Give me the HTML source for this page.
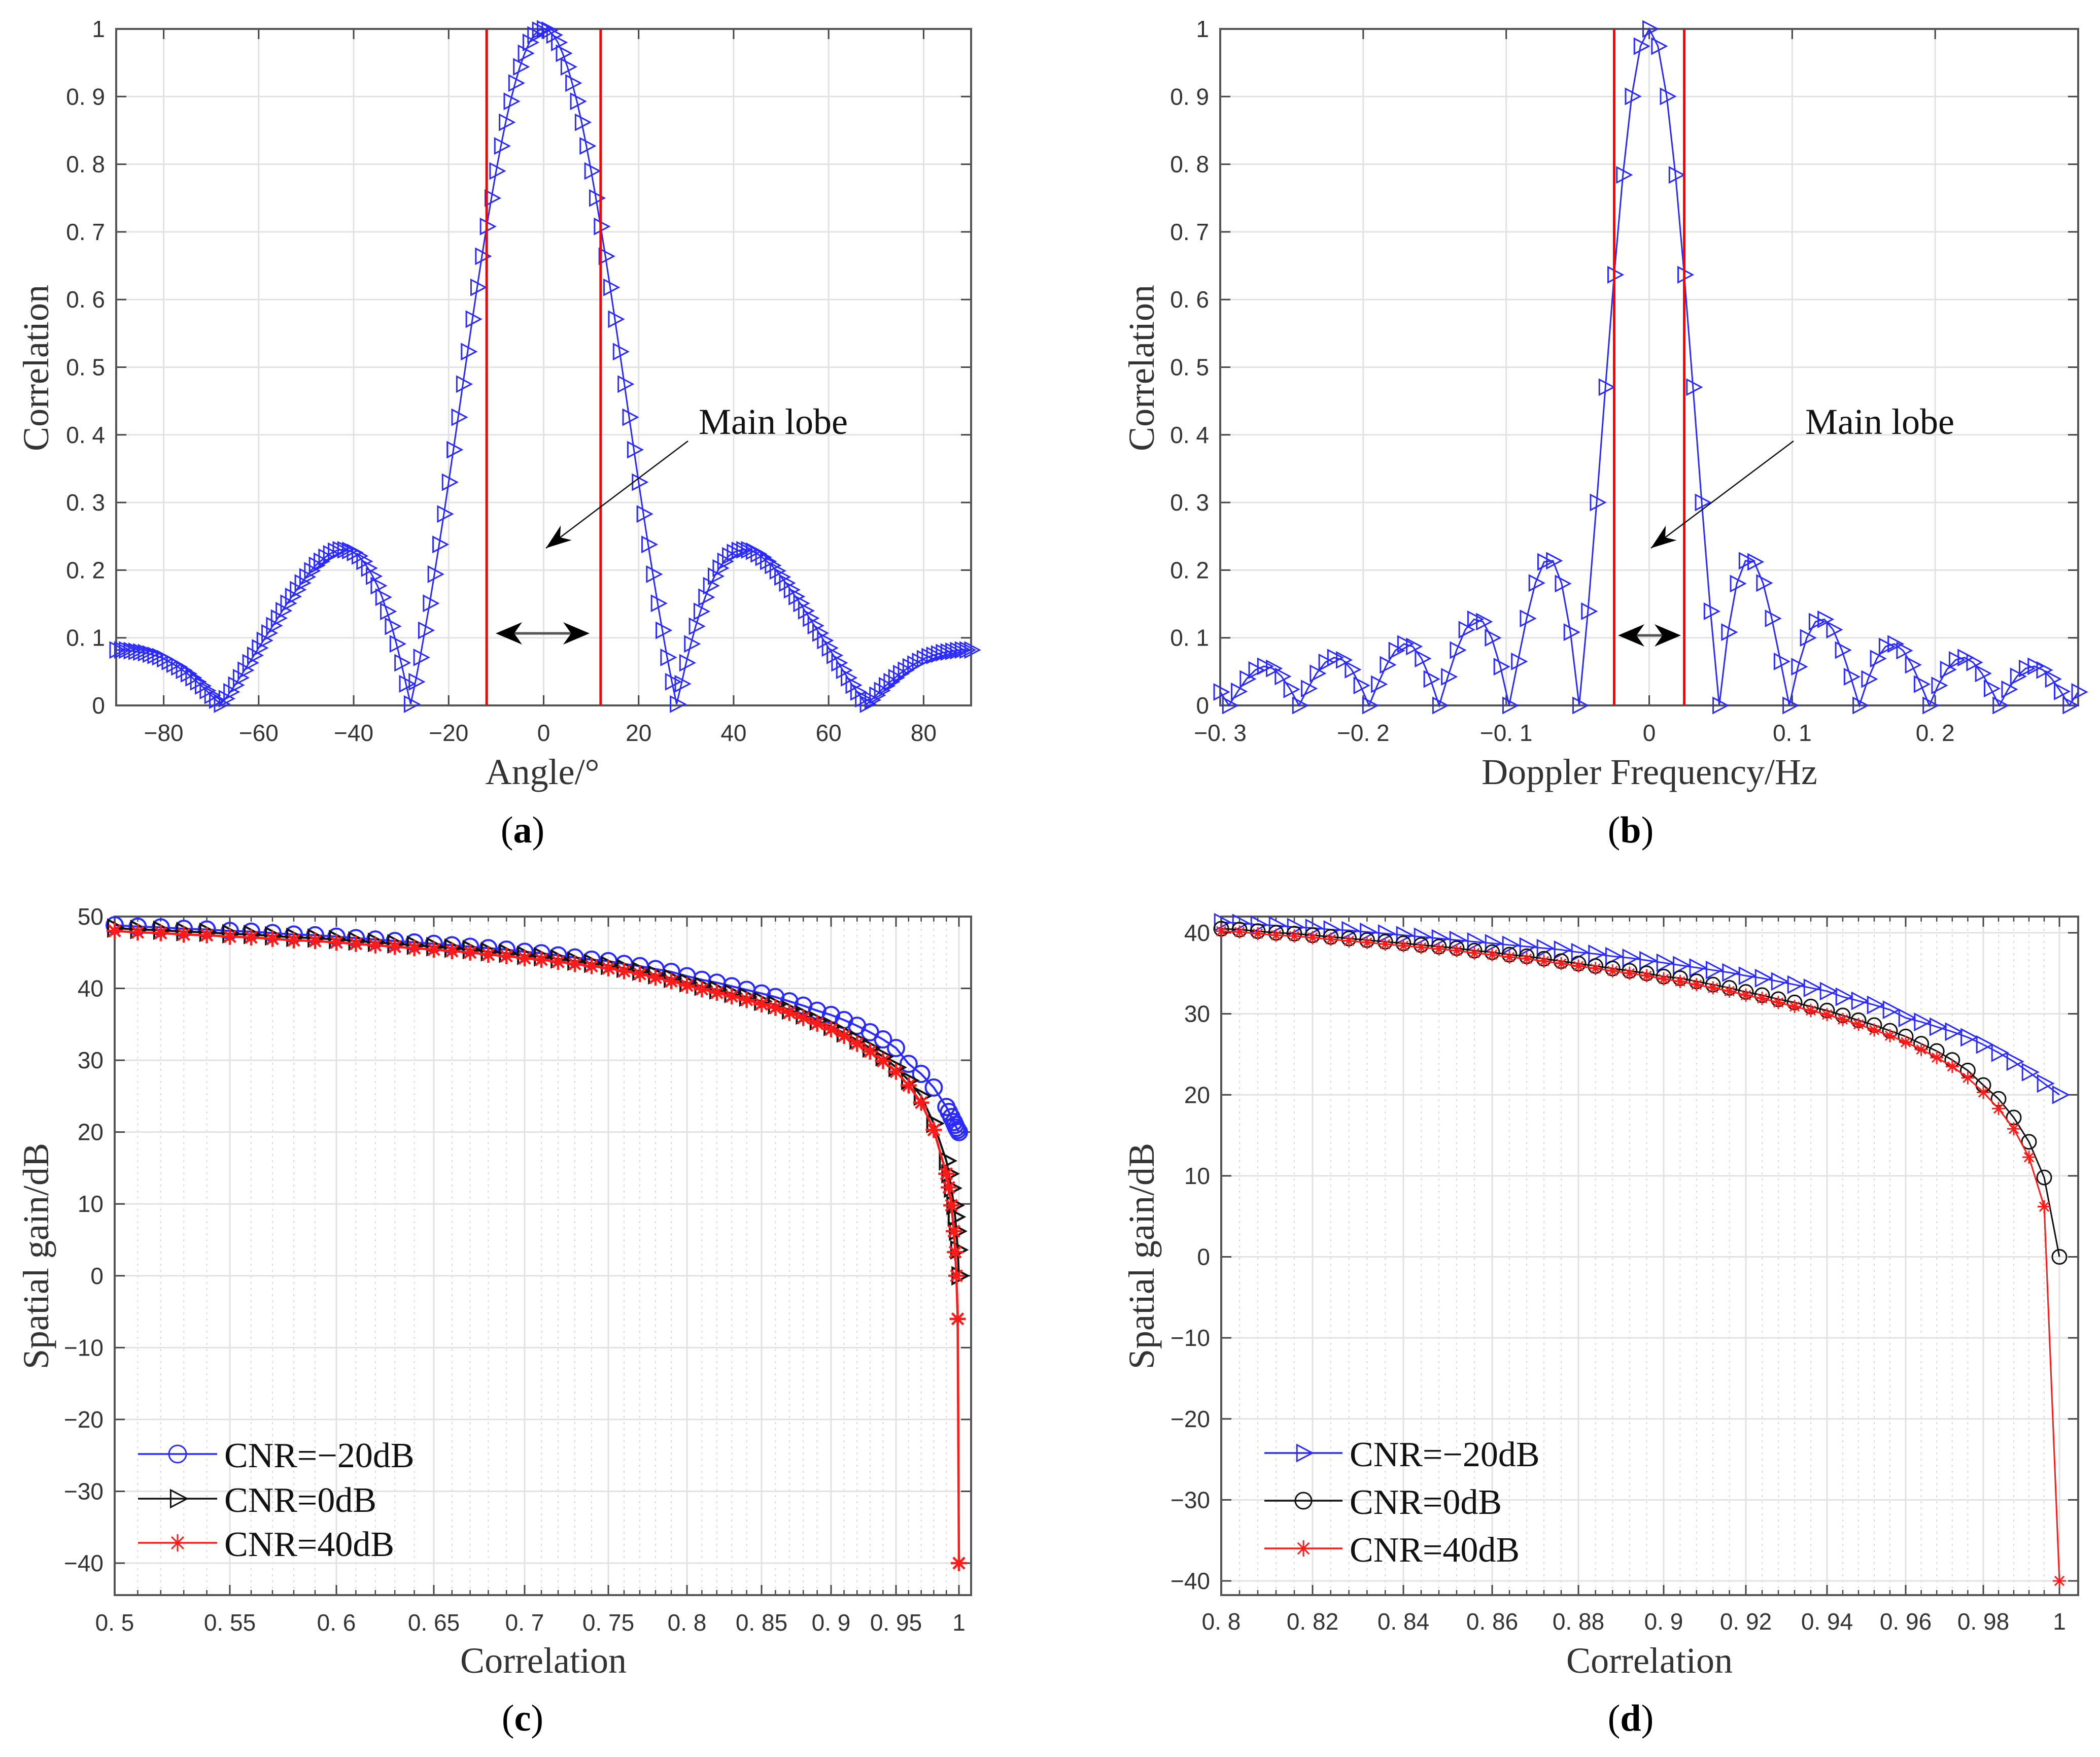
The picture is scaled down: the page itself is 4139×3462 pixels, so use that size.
<!DOCTYPE html>
<html><head><meta charset="utf-8">
<style>
html,body{margin:0;padding:0;background:#fff;}
svg{display:block;}
</style></head>
<body>
<svg id="fig" xmlns="http://www.w3.org/2000/svg" width="4139" height="3462" viewBox="0 0 4139 3462">
<rect x="0" y="0" width="4139" height="3462" fill="#fff"/>
</svg>
<script>
// ---------- data (a) ----------
const angleRange = [-90, 90];
const corrAngle = [.082,.082,.082,.081,.080,.079,.078,.076,.074,.072,.069,.065,.061,.057,.052,.047,.041,.035,.029,.022,.015,.008,.002,.010,.020,.030,.041,.052,.063,.074,.085,.096,.107,.118,.129,.140,.151,.161,.171,.181,.190,.199,.207,.213,.219,.224,.228,.230,.230,.229,.226,.221,.213,.203,.191,.177,.160,.139,.117,.091,.063,.032,.002,.035,.071,.111,.151,.194,.238,.283,.330,.378,.426,.475,.523,.571,.618,.664,.708,.750,.790,.827,.862,.893,.920,.944,.964,.980,.991,.998,
1.000,
.998,.991,.980,.964,.944,.920,.893,.862,.827,.790,.750,.708,.664,.618,.571,.523,.475,.426,.378,.330,.283,.238,.194,.151,.111,.071,.035,.002,.032,.063,.091,.117,.139,.160,.177,.191,.203,.213,.221,.226,.229,.230,.230,.228,.224,.219,.213,.207,.199,.190,.181,.171,.161,.151,.140,.129,.118,.107,.096,.085,.074,.063,.052,.041,.030,.020,.010,.002,.008,.015,.022,.029,.035,.041,.047,.052,.057,.061,.065,.069,.072,.074,.076,.078,.079,.080,.081,.082,.082,.082];
const angleTicks = [-80,-60,-40,-20,0,20,40,60,80];
const corrTicks = [0,0.1,0.2,0.3,0.4,0.5,0.6,0.7,0.8,0.9,1];
const corrTickLabels = ["0","0. 1","0. 2","0. 3","0. 4","0. 5","0. 6","0. 7","0. 8","0. 9","1"];
const angleMainLobe = [-12, 12];

// ---------- data (b) ----------
const dopplerRange = [-0.3, 0.3];
const corrDoppler = [.0199,0,.0207,.0391,.0523,.0579,.0547,.0429,.0238,0,.0250,.0474,.0636,.0707,.0672,.0530,.0295,0,.0314,.0600,.0811,.0909,.0871,.0693,.0390,0,.0424,.0818,.1120,.1273,.1238,.1000,.0573,0,.0650,.1286,.1810,.2122,.2139,.1801,.1083,0,.1392,.3001,.4705,.6366,.7842,.9003,.9745,
1,
.9745,.9003,.7842,.6366,.4705,.3001,.1392,0,.1083,.1801,.2139,.2122,.1810,.1286,.0650,0,.0573,.1000,.1238,.1273,.1120,.0818,.0424,0,.0390,.0693,.0871,.0909,.0811,.0600,.0314,0,.0295,.0530,.0672,.0707,.0636,.0474,.0250,0,.0238,.0429,.0547,.0579,.0523,.0391,.0207,0,.0199];
const dopplerTicks = [-0.3,-0.2,-0.1,0,0.1,0.2];
const dopplerTickLabels = ["\u22120. 3","\u22120. 2","\u22120. 1","0","0. 1","0. 2"];
const dopplerMainLobe = [-0.0245, 0.0245];

// ---------- data (c) ----------
const rhoC = [.50,.51,.52,.53,.54,.55,.56,.57,.58,.59,.60,.61,.62,.63,.64,.65,.66,.67,.68,.69,.70,.71,.72,.73,.74,.75,.76,.77,.78,.79,.80,.81,.82,.83,.84,.85,.86,.87,.88,.89,.90,.91,.92,.93,.94,.95,.96,.97,.98,.99,.992,.994,.996,.997,.998,.999,1];
const gainC_m20 = [48.8,48.6,48.5,48.3,48.2,48.0,47.9,47.7,47.5,47.4,47.2,47.0,46.8,46.6,46.4,46.2,46.0,45.8,45.6,45.4,45.1,44.9,44.6,44.3,44.0,43.8,43.4,43.1,42.7,42.3,41.7,41.2,40.8,40.3,39.8,39.3,38.8,38.2,37.6,36.9,36.3,35.6,34.8,33.9,32.9,31.7,29.5,28.1,26.2,23.5,22.8,22.1,21.4,21.0,20.6,20.3,20.0];
const gainC_0 = [48.4,48.2,48.1,47.9,47.8,47.6,47.5,47.3,47.1,47.0,46.8,46.6,46.4,46.2,46.0,45.8,45.6,45.4,45.1,44.9,44.6,44.4,44.1,43.8,43.5,43.2,42.8,42.4,41.9,41.4,40.8,40.3,39.8,39.3,38.8,38.2,37.7,37.0,36.3,35.5,34.7,33.8,32.8,31.7,30.5,29.0,27.2,25.0,21.2,16.0,14.2,12.2,9.8,8.2,6.2,3.6,0];
const gainC_40 = [48.0,47.8,47.7,47.5,47.4,47.2,47.1,46.9,46.7,46.6,46.4,46.2,46.0,45.8,45.6,45.4,45.2,45.0,44.7,44.5,44.2,44.0,43.7,43.4,43.1,42.8,42.4,42.0,41.5,41.0,40.4,39.9,39.4,38.9,38.4,37.8,37.3,36.6,35.9,35.1,34.3,33.4,32.3,31.2,29.9,28.4,26.5,24.1,20.3,14.2,12.3,9.8,6.2,3.3,0,-6,-40];
const corrTicksC = [0.5,0.55,0.6,0.65,0.7,0.75,0.8,0.85,0.9,0.95,1];
const corrTickLabelsC = ["0. 5","0. 55","0. 6","0. 65","0. 7","0. 75","0. 8","0. 85","0. 9","0. 95","1"];
const gainTicksC = [-40,-30,-20,-10,0,10,20,30,40,50];

// ---------- data (d) ----------
const rhoD = [.800,.804,.808,.812,.816,.820,.824,.828,.832,.836,.840,.844,.848,.852,.856,.860,.864,.868,.872,.876,.880,.884,.888,.892,.896,.900,.904,.908,.912,.916,.920,.924,.928,.932,.936,.940,.944,.948,.952,.956,.960,.964,.968,.972,.976,.980,.984,.988,.992,.996,1.000];
const gainD_m20 = [41.3,41.2,41.0,40.9,40.7,40.6,40.4,40.3,40.1,39.9,39.7,39.5,39.3,39.1,38.9,38.7,38.5,38.3,38.1,37.9,37.6,37.4,37.1,36.9,36.6,36.3,36.0,35.7,35.4,35.1,34.7,34.4,34.0,33.6,33.2,32.8,32.1,31.6,31.1,30.5,29.5,29.0,28.4,27.8,27.1,26.2,25.2,24.1,22.8,21.4,20.0];
const gainD_0 = [40.5,40.4,40.2,40.0,39.9,39.7,39.5,39.3,39.1,38.9,38.7,38.5,38.3,38.1,37.8,37.6,37.3,37.1,36.8,36.5,36.2,35.9,35.6,35.3,35.0,34.6,34.4,34.0,33.6,33.2,32.7,32.3,31.8,31.4,30.9,30.4,29.8,29.2,28.6,27.9,27.2,26.3,25.4,24.3,23.0,21.2,19.5,17.2,14.2,9.8,0];
const gainD_40 = [40.2,40.1,39.9,39.7,39.6,39.4,39.2,39.0,38.8,38.6,38.4,38.2,38.0,37.8,37.5,37.3,37.0,36.8,36.5,36.2,35.9,35.6,35.3,35.0,34.7,34.3,34.0,33.6,33.2,32.8,32.3,31.9,31.4,30.9,30.4,29.9,29.3,28.7,28.0,27.3,26.5,25.6,24.6,23.5,22.1,20.3,18.3,15.8,12.3,6.2,-40];
const corrTicksD = [0.8,0.82,0.84,0.86,0.88,0.9,0.92,0.94,0.96,0.98,1];
const corrTickLabelsD = ["0. 8","0. 82","0. 84","0. 86","0. 88","0. 9","0. 92","0. 94","0. 96","0. 98","1"];
const gainTicksD = [-40,-30,-20,-10,0,10,20,30,40];
const legendLabels = ["CNR=\u221220dB","CNR=0dB","CNR=40dB"];

// ---------- helpers ----------
const NS = "http://www.w3.org/2000/svg";
const svg = document.getElementById("fig");
function el(tag, attrs, parent){
  const e = document.createElementNS(NS, tag);
  for (const k in attrs) e.setAttribute(k, attrs[k]);
  (parent||svg).appendChild(e);
  return e;
}
function linear(d0,d1,r0,r1){ return v => r0 + (v-d0)/(d1-d0)*(r1-r0); }
function piecewise(vals, pix){
  return v => {
    let i = 0;
    while (i < vals.length-2 && v > vals[i+1]) i++;
    return pix[i] + (v-vals[i])/(vals[i+1]-vals[i])*(pix[i+1]-pix[i]);
  };
}
const TICKFONT = '"Liberation Sans", "Noto Sans CJK SC", sans-serif';
const SERIF = '"Liberation Serif", serif';
const BLUE = "#2a2aff", RED = "#ff1a1a", BLACK = "#111";

function marker(g, type, x, y, color, s, sw){
  sw = sw || 3;
  let m;
  if (type === "tri"){
    m = el("polygon", {points:`${x-s*0.8},${y-s} ${x-s*0.8},${y+s} ${x+s*1.1},${y}`, fill:"none", stroke:color, "stroke-width":sw}, g);
  } else if (type === "circ"){
    m = el("circle", {cx:x, cy:y, r:s, fill:"none", stroke:color, "stroke-width":sw}, g);
  } else {
    const d = s*0.7;
    m = el("path", {d:`M${x-s},${y}H${x+s}M${x},${y-s}V${y+s}M${x-d},${y-d}L${x+d},${y+d}M${x-d},${y+d}L${x+d},${y-d}`, stroke:color, "stroke-width":sw, fill:"none"}, g);
  }
  
  
  return m;
}

function drawPanel(p){
  const g = el("g", {});
  
  
  const {L,R,T,B} = p.box;
  const grid = el("g", {});
  
  
  g.appendChild(grid);
  if (p.minorX){
    p.minorX.forEach(v => {
      const x = p.sx(v);
      const ln = el("line", {x1:x,x2:x,y1:T,y2:B,stroke:"#d8d8d8","stroke-width":2,"stroke-dasharray":"4 8"}, grid);
      
      
      const mt = el("line", {x1:x,x2:x,y1:T,y2:T+10,stroke:"#444","stroke-width":2.5}, grid);
      
      
      const mb = el("line", {x1:x,x2:x,y1:B,y2:B-10,stroke:"#444","stroke-width":2.5}, grid);
      
      
    });
  }
  p.xTicks.forEach((v,i) => {
    const x = p.sx(v);
    const ln = el("line", {x1:x,x2:x,y1:T,y2:B,stroke:"#e2e2e2","stroke-width":3}, grid);
    
    
    el("line", {x1:x,x2:x,y1:B,y2:B-20,stroke:"#444","stroke-width":3}, g);
    el("line", {x1:x,x2:x,y1:T,y2:T+20,stroke:"#444","stroke-width":3}, g);
    const t = el("text", {x:x, y:p.xTickBase, "text-anchor":"middle", "font-family":TICKFONT, "font-size":46, fill:"#333"}, g);
    t.textContent = p.xLabels[i];
    
    
  });
  p.yTicks.forEach((v,i) => {
    const y = p.sy(v);
    const ln = el("line", {x1:L,x2:R,y1:y,y2:y,stroke:"#e2e2e2","stroke-width":3}, grid);
    
    
    el("line", {x1:L,x2:L+20,y1:y,y2:y,stroke:"#444","stroke-width":3}, g);
    el("line", {x1:R,x2:R-20,y1:y,y2:y,stroke:"#444","stroke-width":3}, g);
    const t = el("text", {x:L-22, y:y+16, "text-anchor":"end", "font-family":TICKFONT, "font-size":46, fill:"#333"}, g);
    t.textContent = p.yLabels[i];
    
    
  });
  const box = el("rect", {x:L,y:T,width:R-L,height:B-T,fill:"none",stroke:"#555","stroke-width":4}, g);
  
  
  const xl = el("text", {x:p.xTitle[1], y:p.xTitle[2], "text-anchor":"middle", "font-family":SERIF, "font-size":72, fill:"#333"}, g);
  xl.textContent = p.xTitle[0];
  
  
  const yl = el("text", {x:0, y:0, "text-anchor":"middle", "font-family":SERIF, "font-size":72, fill:"#333", transform:`translate(${p.yTitle[1]},${p.yTitle[2]}) rotate(-90)`}, g);
  yl.textContent = p.yTitle[0];
  
  
  const cap = el("text", {x:p.cap[1], y:p.cap[2], "text-anchor":"middle", "font-family":SERIF, "font-size":74, fill:"#000"}, g);
  cap.innerHTML = '(<tspan font-weight="bold">' + p.cap[0] + '</tspan>)';
  
  
  svg.appendChild(g);
  return g;
}

function drawSeries(g, p, xs, ys, color, mtype, msize, name, sw){
  const sg = el("g", {}, g);
  
  
  const pts = xs.map((x,i) => [p.sx(x), p.sy(ys[i])]);
  const pl = el("polyline", {points: pts.map(q => q.join(",")).join(" "), fill:"none", stroke:color, "stroke-width":sw||3}, sg);
  
  
  pts.forEach(q => marker(sg, mtype, q[0], q[1], color, msize, sw));
}

function vline(g, p, v, name){
  const x = p.sx(v);
  const l = el("line", {x1:x,x2:x,y1:p.box.T,y2:p.box.B,stroke:"#ff0000","stroke-width":5}, g);
  
  
}
function arrowHead(g, x, y, dx, dy, len, half){
  const n = Math.hypot(dx,dy); const ux=dx/n, uy=dy/n;
  const bx = x-ux*len, by = y-uy*len;
  const nx=-uy, ny=ux;
  const cx = x-ux*len*0.7, cy = y-uy*len*0.7;
  const h = el("polygon", {points:`${x},${y} ${bx+nx*half},${by+ny*half} ${cx},${cy} ${bx-nx*half},${by-ny*half}`, fill:"#000"}, g);
  
  
}
function annotate(g, txt, tx, ty, a0, a1, d0, d1, dy){
  const t = el("text", {x:tx, y:ty, "font-family":SERIF, "font-size":72, fill:"#111"}, g);
  t.textContent = txt;
  
  
  const l = el("line", {x1:a0[0],y1:a0[1],x2:a1[0],y2:a1[1],stroke:"#111","stroke-width":2.5}, g);
  
  
  arrowHead(g, a1[0], a1[1], a1[0]-a0[0], a1[1]-a0[1], 50, 18);
  const dl = el("line", {x1:d0+30,y1:dy,x2:d1-30,y2:dy,stroke:"#555","stroke-width":5}, g);
  
  
  arrowHead(g, d0, dy, -1, 0, 52, 22);
  arrowHead(g, d1, dy, 1, 0, 52, 22);
}
function legend(g, x0, x1, mx, tx, ys, colors, types, msize){
  const lg = el("g", {}, g);
  
  
  legendLabels.forEach((lab,i) => {
    const eg = el("g", {}, lg);
    
    
    el("line", {x1:x0,x2:x1,y1:ys[i],y2:ys[i],stroke:colors[i],"stroke-width":3.5}, eg);
    marker(eg, types[i], mx, ys[i], colors[i], msize);
    const t = el("text", {x:tx, y:ys[i]+26, "font-family":SERIF, "font-size":70, fill:"#111"}, eg);
    t.textContent = lab;
    
    
  });
}

// ---------- panel (a) ----------
const pA = {name:"panel-a-angle-correlation", box:{L:229,R:1914,T:57,B:1390},
  xTicks:angleTicks, xLabels:angleTicks.map(v => v<0 ? "\u2212"+(-v) : String(v)),
  yTicks:corrTicks, yLabels:corrTickLabels, xTickBase:1460,
  xTitle:["Angle/\u00b0",1069,1545], yTitle:["Correlation",95,725], cap:["a",1030,1660]};
pA.sx = linear(angleRange[0], angleRange[1], 229, 1914);
pA.sy = linear(0, 1, 1390, 57);
const gA = drawPanel(pA);
const angles = corrAngle.map((_,i) => angleRange[0] + i*(angleRange[1]-angleRange[0])/(corrAngle.length-1));
drawSeries(gA, pA, angles, corrAngle, BLUE, "tri", 15, "series-angle-correlation");
vline(gA, pA, angleMainLobe[0], "main-lobe-left-bound");
vline(gA, pA, angleMainLobe[1], "main-lobe-right-bound");
annotate(gA, "Main lobe", 1377, 855, [1356,869], [1076,1080], 977, 1162, 1248);

// ---------- panel (b) ----------
const pB = {name:"panel-b-doppler-correlation", box:{L:2405,R:4096,T:57,B:1390},
  xTicks:dopplerTicks, xLabels:dopplerTickLabels,
  yTicks:corrTicks, yLabels:corrTickLabels, xTickBase:1460,
  xTitle:["Doppler Frequency/Hz",3251,1545], yTitle:["Correlation",2274,725], cap:["b",3214,1660]};
pB.sx = linear(dopplerRange[0], dopplerRange[1], 2405, 4096);
pB.sy = linear(0, 1, 1390, 57);
const gB = drawPanel(pB);
const freqs = corrDoppler.map((_,i) => dopplerRange[0] + i*(dopplerRange[1]-dopplerRange[0])/(corrDoppler.length-1));
drawSeries(gB, pB, freqs, corrDoppler, BLUE, "tri", 15, "series-doppler-correlation");
vline(gB, pB, dopplerMainLobe[0], "main-lobe-left-bound");
vline(gB, pB, dopplerMainLobe[1], "main-lobe-right-bound");
annotate(gB, "Main lobe", 3558, 855, [3535,869], [3254,1080], 3189, 3313, 1252);

// ---------- panel (c) ----------
const pC = {name:"panel-c-spatial-gain", box:{L:226,R:1914,T:1806,B:3143},
  xTicks:corrTicksC, xLabels:corrTickLabelsC,
  yTicks:gainTicksC, yLabels:gainTicksC.map(v => v<0 ? "\u2212"+(-v) : String(v)), xTickBase:3213,
  xTitle:["Correlation",1071,3296], yTitle:["Spatial gain/dB",95,2475], cap:["c",1030,3410]};
pC.sx = piecewise(corrTicksC.concat([1.004]), [226,453,663,855,1034,1199,1354,1501,1638,1766,1890,1914]);
pC.sy = linear(50, -40, 1806, 3080);
pC.minorX = [];
for (let v=0.51; v<1.0; v+=0.01){ if (Math.abs(v*20-Math.round(v*20))>1e-6) pC.minorX.push(v); }
const gC = drawPanel(pC);
drawSeries(gC, pC, rhoC, gainC_m20, BLUE, "circ", 16, "series-cnr-minus20db", 4);
drawSeries(gC, pC, rhoC, gainC_0, BLACK, "tri", 16, "series-cnr-0db", 4);
drawSeries(gC, pC, rhoC, gainC_40, RED, "star", 16, "series-cnr-40db", 4.5);
legend(gC, 272, 428, 350, 442, [2865,2953,3040], [BLUE,BLACK,RED], ["circ","tri","star"], 17);

// ---------- panel (d) ----------
const pD = {name:"panel-d-spatial-gain-zoom", box:{L:2407,R:4096,T:1806,B:3143},
  xTicks:corrTicksD, xLabels:corrTickLabelsD,
  yTicks:gainTicksD, yLabels:gainTicksD.map(v => v<0 ? "\u2212"+(-v) : String(v)), xTickBase:3211,
  xTitle:["Correlation",3251,3296], yTitle:["Spatial gain/dB",2274,2475], cap:["d",3214,3410]};
pD.sx = piecewise(corrTicksD.concat([1.0047]), [2407,2587,2766,2941,3111,3279,3441,3601,3756,3909,4059,4096]);
pD.sy = linear(40, -40, 1838, 3115);
pD.minorX = [];
for (let v=0.804; v<1.0; v+=0.004){ if (Math.abs(v*50-Math.round(v*50))>1e-6) pD.minorX.push(v); }
const gD = drawPanel(pD);
drawSeries(gD, pD, rhoD, gainD_m20, BLUE, "tri", 16, "series-cnr-minus20db");
drawSeries(gD, pD, rhoD, gainD_0, BLACK, "circ", 14, "series-cnr-0db");
drawSeries(gD, pD, rhoD, gainD_40, RED, "star", 13, "series-cnr-40db");
legend(gD, 2492, 2646, 2569, 2660, [2863,2957,3051], [BLUE,BLACK,RED], ["tri","circ","star"], 16);
</script>
</body></html>
